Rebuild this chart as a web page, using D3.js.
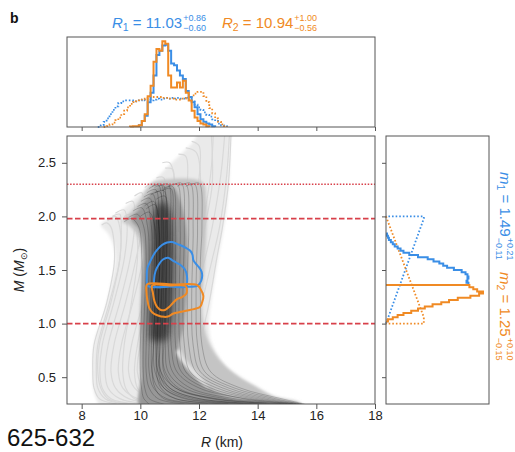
<!DOCTYPE html>
<html>
<head>
<meta charset="utf-8">
<script src="https://cdn.jsdelivr.net/npm/d3@7"></script>
<style>
  body { margin: 0; background: #fff; }
  svg { display: block; }
  text { font-family: "Liberation Sans", Arial, Helvetica, sans-serif; }
</style>
</head>
<body>
<svg id="chart" width="515" height="452"></svg>
<script>
// ---------- data ----------
const radiusTicks = [8, 10, 12, 14, 16, 18];
const massTicks = [0.5, 1.0, 1.5, 2.0, 2.5];
const dashedMasses = [1.0, 1.98];
const dottedMasses = [2.3];

// radius histograms (bin start, bin width, heights)
const r1PostStart = 9.95, r2PostStart = 9.65, r1PriorStart = 8.55, r2PriorStart = 8.75, rBinWidth = 0.1;
const r1Posterior = [0.02,0.07,0.13,0.29,0.40,0.60,0.84,0.89,0.95,0.96,0.89,0.74,0.72,0.66,0.60,0.56,0.42,0.35,0.29,0.23,0.15,0.09,0.06,0.04,0.03,0.01];
const r2Posterior = [0.005,0.01,0.01,0.02,0.07,0.15,0.36,0.48,0.76,0.91,0.89,1.0,0.97,0.60,0.46,0.46,0.52,0.46,0.54,0.40,0.31,0.19,0.11,0.07,0.04,0.03,0.01];
const r1Prior = [0.0,0.02,0.06,0.1,0.15,0.2,0.24,0.28,0.3,0.31,0.31,0.31,0.3,0.31,0.31,0.32,0.31,0.32,0.31,0.32,0.33,0.32,0.33,0.34,0.33,0.34,0.33,0.34,0.33,0.33,0.34,0.32,0.3,0.26,0.23,0.2,0.17,0.14,0.12,0.09,0.07,0.04,0.02,0.01];
const r2Prior = [0.0,0.01,0.03,0.05,0.08,0.11,0.15,0.19,0.23,0.27,0.29,0.3,0.31,0.32,0.33,0.34,0.35,0.35,0.35,0.35,0.34,0.34,0.33,0.33,0.32,0.32,0.33,0.33,0.34,0.35,0.37,0.39,0.41,0.41,0.36,0.29,0.22,0.16,0.1,0.06,0.03,0.01];

// mass histograms
const m1PostStart = 1.36, m2PostStart = 1.02, mBinWidth = 0.02;
const m1Posterior = [0.85,0.83,0.84,0.85,0.84,0.82,0.78,0.70,0.63,0.59,0.55,0.49,0.43,0.33,0.24,0.18,0.15,0.12,0.09,0.07,0.05,0.03,0.02,0.01];
const m2Posterior = [0.02,0.07,0.12,0.18,0.26,0.33,0.40,0.48,0.57,0.65,0.74,0.87,0.96,1.0,0.94,0.90,0.86];
const m1Prior = [[0, 1.0], [0.39, 1.98], [0.39, 2.0], [0, 2.0]];
const m2Prior = [[0, 2.0], [0.39, 1.06], [0.39, 1.0], [0, 1.0]];

// credible contours [R, M]
const contourBlue90 = [[10.26,1.351],[10.22,1.435],[10.24,1.519],[10.33,1.575],[10.43,1.631],[10.57,1.687],[10.74,1.733],[10.91,1.757],[11.08,1.761],[11.22,1.747],[11.35,1.733],[11.58,1.702],[11.71,1.677],[11.78,1.64],[11.81,1.589],[11.9,1.556],[11.98,1.531],[12.09,1.484],[12.1,1.425],[12.03,1.376],[11.93,1.351],[11.1,1.35]];
const contourBlue50 = [[10.5,1.346],[10.47,1.416],[10.52,1.491],[10.62,1.547],[10.77,1.598],[10.94,1.615],[11.08,1.593],[11.22,1.57],[11.39,1.542],[11.52,1.505],[11.59,1.444],[11.59,1.379],[11.56,1.346],[11.0,1.346]];
const contourOrange90 = [[10.23,1.365],[10.21,1.295],[10.24,1.22],[10.3,1.15],[10.41,1.104],[10.6,1.076],[10.81,1.063],[10.94,1.066],[11.13,1.094],[11.35,1.108],[11.69,1.127],[12.03,1.155],[12.1,1.192],[12.15,1.257],[12.05,1.323],[11.93,1.36],[11.1,1.365]];
const contourOrange50 = [[10.4,1.355],[10.43,1.285],[10.48,1.211],[10.57,1.155],[10.7,1.127],[10.84,1.127],[10.98,1.155],[11.11,1.192],[11.25,1.229],[11.42,1.248],[11.56,1.276],[11.59,1.313],[11.54,1.351],[11.0,1.355]];

// mass levels at which each EOS curve lists its radius, then its turnover points [R, M]
const massGrid = [0.25, 0.3, 0.4, 0.55, 0.8, 1.2, 1.6, 1.9];
const priorCurves = [
  [[9.2,8.6,8.42,8.38,8.42,8.86,9.12,9.0],[[8.85,1.94],[8.68,1.92]]],
  [[9.5,8.8,8.55,8.5,8.55,8.95,9.3,9.3],[[9.15,2.0],[8.88,1.96]]],
  [[9.6,8.9,8.65,8.55,8.6,9.0,9.3,9.35],[[9.3,2.02],[9.05,2.0]]],
  [[9.9,9.0,8.7,8.62,8.7,9.1,9.45,9.55],[[9.45,2.06],[9.15,2.03]]],
  [[10.3,9.3,8.9,8.8,8.9,9.3,9.65,9.8],[[9.75,2.14],[9.5,2.12]]],
  [[10.6,9.8,9.5,9.4,9.45,9.7,9.9,9.85],[[9.7,2.02],[9.45,2.0]]],
  [[10.8,9.6,9.15,9.0,9.1,9.5,9.85,10.05],[[10.05,2.22],[9.8,2.19]]],
  [[11.3,9.9,9.4,9.25,9.35,9.75,10.1,10.3],[[10.4,2.3],[10.15,2.27]]],
  [[11.4,10.3,9.9,9.8,9.9,10.2,10.4,10.4],[[10.2,2.12],[9.95,2.1]]],
  [[12.0,10.4,9.8,9.6,9.7,10.1,10.45,10.65],[[10.8,2.36],[10.55,2.36]]],
  [[12.5,10.8,10.3,10.2,10.3,10.7,11.0,11.1],[[11.2,2.2],[11.0,2.5],[10.75,2.5]]],
  [[12.8,10.9,10.1,9.9,10.0,10.4,10.8,11.0],[[11.15,2.3],[11.1,2.44],[10.85,2.45]]],
  [[13.5,11.4,10.5,10.25,10.35,10.75,11.15,11.4],[[11.6,2.3],[11.55,2.56],[11.3,2.58]]],
  [[13.5,11.6,10.9,10.8,10.9,11.3,11.65,11.85],[[12.05,2.25],[11.9,2.6],[11.55,2.64]]],
  [[14.3,12.0,10.9,10.6,10.7,11.1,11.5,11.75],[[12.0,2.35],[12.0,2.66],[11.75,2.7]]],
  [[14.5,12.4,11.4,11.2,11.3,11.7,12.0,12.2],[[12.45,2.3],[12.4,2.85]]],
  [[15.0,12.5,11.3,10.95,11.05,11.45,11.85,12.1],[[12.4,2.4],[12.5,2.85]]],
  [[15.3,13.0,11.7,11.3,11.4,11.8,12.2,12.45],[[12.75,2.4],[12.9,2.85]]],
  [[15.4,13.5,12.1,11.6,11.7,12.1,12.45,12.7],[[12.95,2.4],[13.05,2.85]]],
  [[15.5,14.0,12.6,12.0,12.05,12.35,12.6,12.8],[[13.0,2.3],[13.1,2.85]]]
];
const posteriorCurves = [
  [[10.3,10.12,10.04,10.0,10.0,10.05,10.05,9.95],[[9.7,1.98],[9.45,1.95]]],
  [[10.8,10.3,10.15,10.1,10.1,10.15,10.2,10.12],[[9.9,2.02],[9.6,1.99]]],
  [[11.5,10.6,10.3,10.2,10.2,10.25,10.3,10.25],[[10.05,2.08],[9.75,2.05]]],
  [[12.0,10.8,10.5,10.4,10.45,10.5,10.55,10.5],[[10.3,2.04],[10.0,2.0]]],
  [[12.3,10.9,10.45,10.3,10.3,10.35,10.4,10.38],[[10.2,2.12],[9.9,2.09]]],
  [[13.0,11.2,10.6,10.4,10.38,10.42,10.48,10.48],[[10.32,2.17],[10.02,2.14]]],
  [[13.0,11.2,10.7,10.55,10.58,10.62,10.66,10.63],[[10.46,2.14],[10.15,2.1]]],
  [[13.5,11.5,10.8,10.6,10.55,10.6,10.65,10.64],[[10.5,2.11],[10.2,2.07]]],
  [[13.8,11.6,10.8,10.5,10.45,10.5,10.55,10.56],[[10.42,2.21],[10.12,2.18]]],
  [[14.0,11.8,10.9,10.65,10.68,10.72,10.78,10.8],[[10.7,2.3],[10.4,2.28]]],
  [[14.3,12.0,11.0,10.7,10.65,10.7,10.75,10.77],[[10.66,2.23],[10.35,2.2]]],
  [[14.4,12.0,11.0,10.6,10.52,10.55,10.6,10.63],[[10.52,2.25],[10.22,2.22]]],
  [[14.8,12.5,11.3,10.85,10.75,10.78,10.82,10.86],[[10.78,2.29],[10.48,2.27]]],
  [[14.9,12.4,11.2,10.7,10.6,10.62,10.68,10.72],[[10.62,2.29],[10.3,2.26]]],
  [[15.0,12.6,11.2,10.8,10.8,10.85,10.88,10.9],[[10.8,2.24],[10.5,2.22]]],
  [[15.1,12.9,11.5,10.95,10.85,10.88,10.9,10.92],[[10.84,2.19],[10.54,2.16]]],
  [[15.2,13.2,11.7,11.1,10.95,10.98,11.0,11.02],[[10.95,2.3],[10.62,2.28]]],
  [[15.3,13.6,12.0,11.25,11.05,11.05,11.08,11.1],[[11.04,2.26],[10.74,2.24]]],
  [[15.2,13.5,12.2,11.4,11.2,11.2,11.2,11.2],[[11.1,2.28],[10.8,2.26]]],
  [[15.3,13.8,12.4,11.55,11.35,11.32,11.35,11.36],[[11.26,2.3],[10.95,2.28]]],
  [[15.4,14.0,12.6,11.7,11.5,11.45,11.48,11.5],[[11.4,2.31],[11.1,2.29]]],
  [[15.4,14.2,12.8,11.9,11.65,11.6,11.62,11.65],[[11.55,2.3],[11.25,2.28]]],
  [[15.5,14.4,13.0,12.05,11.8,11.75,11.78,11.8],[[11.7,2.31],[11.4,2.29]]],
  [[15.5,14.6,13.2,12.2,11.95,11.9,11.92,11.95],[[11.85,2.3],[11.55,2.28]]],
  [[15.6,14.8,13.4,12.4,12.1,12.05,12.05,12.1],[[12.0,2.31],[11.7,2.29]]]
];

// outlines of the EOS bundles [R, M]
const priorBand = [[8.75,0.2],[8.5,0.3],[8.4,0.4],[8.38,0.55],[8.4,0.75],[8.5,0.9],[8.66,1.0],[8.86,1.2],[9.03,1.4],[9.15,1.6],[9.1,1.72],[8.9,1.84],[8.65,1.92],[8.8,1.96],[9.2,2.02],[9.75,2.15],[10.35,2.3],[10.92,2.46],[11.5,2.61],[11.85,2.71],[12.0,2.8],[13.1,2.8],[13.06,2.7],[13.04,2.4],[12.95,2.1],[12.78,1.8],[12.58,1.5],[12.41,1.2],[12.34,1.0],[12.4,0.85],[12.6,0.72],[12.9,0.6],[13.3,0.5],[13.86,0.41],[14.55,0.32],[15.44,0.26],[15.6,0.2]];
const posteriorBand = [[10.05,0.2],[10.02,0.5],[10.0,1.0],[10.03,1.4],[10.05,1.65],[9.9,1.82],[9.6,1.92],[9.4,1.95],[9.7,2.05],[10.0,2.16],[10.25,2.27],[10.45,2.32],[12.1,2.32],[12.25,2.15],[12.25,1.9],[12.18,1.5],[12.1,1.2],[12.15,1.0],[12.3,0.85],[12.6,0.7],[13.0,0.58],[13.4,0.5],[13.9,0.42],[14.55,0.32],[15.44,0.26],[15.6,0.2]];
const posteriorInner = [[10.05,0.2],[10.03,0.5],[10.02,1.0],[10.08,1.4],[10.1,1.7],[9.95,1.88],[9.7,1.97],[10.0,2.08],[10.3,2.2],[10.6,2.28],[11.1,2.28],[11.35,2.15],[11.55,1.9],[11.6,1.6],[11.55,1.2],[11.45,0.95],[11.3,0.75],[11.6,0.6],[12.0,0.47],[12.5,0.37],[13.2,0.3],[14.2,0.26],[14.6,0.2]];
const posteriorCore = [[10.35,0.85],[10.3,1.0],[10.35,1.4],[10.4,1.8],[10.45,2.02],[10.7,2.14],[11.0,2.06],[11.12,1.8],[11.15,1.4],[11.05,1.0],[10.9,0.85]];
const posteriorGap = [[11.22,0.74],[11.45,0.63],[11.8,0.52],[12.15,0.43],[12.35,0.39],[12.2,0.45],[11.9,0.55],[11.55,0.66],[11.32,0.76]];

// ---------- layout ----------
const BLUE = "#3a8ee6", ORANGE = "#f08a24", RED = "#d8404a", FRAME = "#555";
const svg = d3.select("#chart");
const x = d3.scaleLinear().domain([7.5, 18]).range([67, 375]);
const y = d3.scaleLinear().domain([0.25, 2.75]).range([404, 136]);
const yTop = d3.scaleLinear().domain([0, 1.05]).range([127, 37]);
const xSide = d3.scaleLinear().domain([0, 1.062]).range([386, 489]);

const defs = svg.append("defs");
defs.append("clipPath").attr("id", "mainClip").append("rect")
  .attr("x", 67).attr("y", 136).attr("width", 308).attr("height", 268);
defs.append("filter").attr("id", "soft").attr("x", "-20%").attr("y", "-20%").attr("width", "140%").attr("height", "140%")
  .append("feGaussianBlur").attr("stdDeviation", 1.8);
defs.append("filter").attr("id", "softer").attr("x", "-30%").attr("y", "-20%").attr("width", "160%").attr("height", "140%")
  .append("feGaussianBlur").attr("stdDeviation", 3.5);

// ---------- main M-R panel ----------
const mainPanel = svg.append("g").attr("clip-path", "url(#mainClip)");
const areaLine = d3.line().x(d => x(d[0])).y(d => y(d[1])).curve(d3.curveCatmullRomClosed.alpha(0.5));
const eosLine = d3.line().x(d => x(d[0])).y(d => y(d[1])).curve(d3.curveCatmullRom.alpha(0.5));
const eosPoints = c => massGrid.map((m, i) => [c[0][i], m]).concat(c[1]);

mainPanel.append("path").attr("d", areaLine(priorBand)).attr("fill", "#eaeaea").attr("filter", "url(#soft)");
mainPanel.append("g").selectAll("path").data(priorCurves).join("path")
  .attr("d", c => eosLine(eosPoints(c)))
  .attr("fill", "none").attr("stroke", "#d9d9d9").attr("stroke-width", 1.2);

mainPanel.append("path").attr("d", areaLine(posteriorBand)).attr("fill", "#c4c4c4").attr("filter", "url(#soft)");
mainPanel.append("path").attr("d", areaLine(posteriorInner)).attr("fill", "#979797").attr("filter", "url(#soft)");
mainPanel.append("path").attr("d", areaLine(posteriorGap)).attr("fill", "#e4e4e4").attr("filter", "url(#soft)");
mainPanel.append("path").attr("d", areaLine(posteriorCore)).attr("fill", "#3c3c3c").attr("fill-opacity", 0.85).attr("filter", "url(#softer)");
mainPanel.append("g").selectAll("path").data(posteriorCurves).join("path")
  .attr("d", c => eosLine(eosPoints(c)))
  .attr("fill", "none").attr("stroke", "#000").attr("stroke-opacity", 0.2).attr("stroke-width", 1);

mainPanel.append("g").selectAll("line").data(dashedMasses).join("line")
  .attr("x1", 67).attr("x2", 375).attr("y1", d => y(d)).attr("y2", d => y(d))
  .attr("stroke", RED).attr("stroke-width", 1.8).attr("stroke-dasharray", "5.5,2.5");
mainPanel.append("g").selectAll("line").data(dottedMasses).join("line")
  .attr("x1", 67).attr("x2", 375).attr("y1", d => y(d)).attr("y2", d => y(d))
  .attr("stroke", RED).attr("stroke-width", 1.5).attr("stroke-dasharray", "1.5,1.6");

[[contourBlue90, BLUE], [contourBlue50, BLUE], [contourOrange90, ORANGE], [contourOrange50, ORANGE]].forEach(([pts, col]) => {
  mainPanel.append("path").attr("d", areaLine(pts)).attr("fill", "none").attr("stroke", col).attr("stroke-width", 2);
});

// frame and axes
svg.append("rect").attr("x", 67).attr("y", 136).attr("width", 308).attr("height", 268)
  .attr("fill", "none").attr("stroke", FRAME).attr("stroke-width", 1);
const styleAxis = g => {
  g.select(".domain").remove();
  g.selectAll(".tick line").attr("stroke", FRAME);
  g.selectAll(".tick text").attr("fill", "#222").attr("font-size", 13)
    .attr("font-family", "'Liberation Sans', Arial, sans-serif");
};
svg.append("g").attr("transform", "translate(0,404)")
  .call(d3.axisBottom(x).tickValues(radiusTicks).tickSize(5).tickPadding(2).tickFormat(d3.format("d")))
  .call(styleAxis);
svg.append("g").attr("transform", "translate(67,0)")
  .call(d3.axisLeft(y).tickValues(massTicks).tickSize(5).tickPadding(6).tickFormat(d3.format(".1f")))
  .call(styleAxis);

svg.append("text").attr("x", 222).attr("y", 447).attr("text-anchor", "middle").attr("font-size", 14).attr("fill", "#222")
  .call(t => { t.append("tspan").attr("font-style", "italic").text("R"); t.append("tspan").text(" (km)"); });
svg.append("text").attr("transform", "translate(24,270) rotate(-90)").attr("text-anchor", "middle")
  .attr("font-size", 14).attr("fill", "#222")
  .call(t => {
    t.append("tspan").attr("font-style", "italic").text("M");
    t.append("tspan").text(" (");
    t.append("tspan").attr("font-style", "italic").text("M");
    t.append("tspan").attr("font-size", 9).attr("dy", 3).text("\u2299");
    t.append("tspan").attr("dy", -3).text(")");
  });

// ---------- top radius panel ----------
const stepH = (start, w, vals) => {
  const pts = [[start, 0]];
  vals.forEach((v, i) => { pts.push([start + i * w, v], [start + (i + 1) * w, v]); });
  pts.push([start + vals.length * w, 0]);
  return pts;
};
const topLine = d3.line().x(d => x(d[0])).y(d => yTop(d[1]));
const radiusPanel = svg.append("g");
[[r1Prior, r1PriorStart, BLUE, true], [r2Prior, r2PriorStart, ORANGE, true],
 [r1Posterior, r1PostStart, BLUE, false], [r2Posterior, r2PostStart, ORANGE, false]].forEach(([vals, s, col, dotted]) => {
  radiusPanel.append("path").attr("d", topLine(stepH(s, rBinWidth, vals))).attr("fill", "none")
    .attr("stroke", col).attr("stroke-width", dotted ? 1.8 : 2)
    .attr("stroke-dasharray", dotted ? "1.6,2" : null);
});
svg.append("rect").attr("x", 67).attr("y", 37).attr("width", 308).attr("height", 90)
  .attr("fill", "none").attr("stroke", FRAME).attr("stroke-width", 1);
svg.append("g").attr("transform", "translate(0,127)")
  .call(d3.axisBottom(x).tickValues(radiusTicks).tickSize(4).tickFormat(() => ""))
  .call(styleAxis);

// ---------- side mass panel ----------
const sideLine = d3.line().x(d => xSide(d[0])).y(d => y(d[1]));
const stepV = (start, w, vals) => {
  const pts = [[0, start]];
  vals.forEach((v, i) => { pts.push([v, start + i * w], [v, start + (i + 1) * w]); });
  pts.push([0, start + vals.length * w]);
  return pts;
};
const massPanel = svg.append("g");
[[m1Prior, BLUE], [m2Prior, ORANGE]].forEach(([pts, col]) => {
  massPanel.append("path").attr("d", sideLine(pts)).attr("fill", "none").attr("stroke", col)
    .attr("stroke-width", 1.8).attr("stroke-dasharray", "1.6,2");
});
[[m1Posterior, m1PostStart, BLUE], [m2Posterior, m2PostStart, ORANGE]].forEach(([vals, s, col]) => {
  massPanel.append("path").attr("d", sideLine(stepV(s, mBinWidth, vals))).attr("fill", "none")
    .attr("stroke", col).attr("stroke-width", 2);
});
svg.append("rect").attr("x", 386).attr("y", 136).attr("width", 103).attr("height", 268)
  .attr("fill", "none").attr("stroke", FRAME).attr("stroke-width", 1);
svg.append("g").attr("transform", "translate(386,0)")
  .call(d3.axisLeft(y).tickValues(massTicks).tickSize(4).tickFormat(() => ""))
  .call(styleAxis);

// ---------- estimate labels ----------
function writeEstimate(g, x0, sym, idx, val, hi, lo, col) {
  const t = g.append("text").attr("x", x0).attr("y", 0).attr("fill", col).attr("font-size", 15);
  t.append("tspan").attr("font-style", "italic").text(sym);
  t.append("tspan").attr("font-size", 10.5).attr("dy", 3.5).text(idx);
  t.append("tspan").attr("dy", -3.5).text(" = " + val);
  const w = t.node().getComputedTextLength();
  g.append("text").attr("x", x0 + w + 1).attr("y", -6.5).attr("fill", col).attr("font-size", 9).text(hi);
  g.append("text").attr("x", x0 + w + 1).attr("y", 3.8).attr("fill", col).attr("font-size", 9).text(lo);
}
const title = svg.append("g").attr("transform", "translate(0,27.5)");
writeEstimate(title, 112, "R", "1", "11.03", "+0.86", "\u22120.60", BLUE);
writeEstimate(title, 222, "R", "2", "10.94", "+1.00", "\u22120.56", ORANGE);

const massNote = svg.append("g").attr("transform", "translate(500,0) rotate(90)");
writeEstimate(massNote, 172, "m", "1", "1.49", "+0.21", "\u22120.11", BLUE);
writeEstimate(massNote, 272, "m", "2", "1.25", "+0.10", "\u22120.15", ORANGE);

svg.append("text").attr("x", 10).attr("y", 22.5).attr("font-size", 14).attr("font-weight", "bold").attr("fill", "#111").text("b");
svg.append("text").attr("x", 7).attr("y", 446).attr("font-size", 24).attr("fill", "#111").text("625-632");
</script>
</body>
</html>
